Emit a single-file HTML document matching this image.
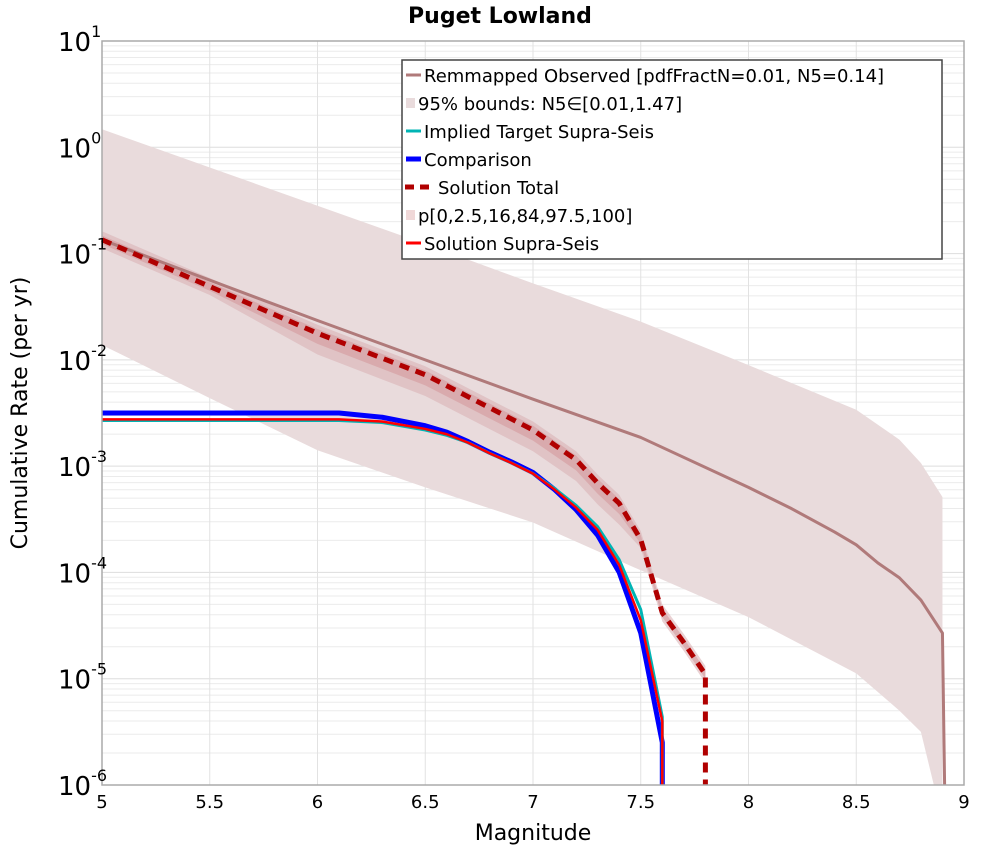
<!DOCTYPE html>
<html><head><meta charset="utf-8"><style>
body{margin:0;background:#fff;font-family:"DejaVu Sans","Liberation Sans",sans-serif}
svg text{font-family:"DejaVu Sans","Liberation Sans",sans-serif}
</style></head><body>
<svg id="chart" width="1000" height="850" viewBox="0 0 1000 850" xmlns="http://www.w3.org/2000/svg">
<text x="500" y="23" text-anchor="middle" font-size="22" font-weight="bold">Puget Lowland</text>
<g id="grid"></g>
<g id="marks"></g>
<rect x="102" y="41" width="862" height="744" fill="none" stroke="#aaa" stroke-width="1.5"/>
<g id="ticks"></g>
<text x="533" y="840" text-anchor="middle" font-size="22">Magnitude</text>
<text transform="translate(27,413) rotate(-90)" text-anchor="middle" font-size="22">Cumulative Rate (per yr)</text>
<g id="legend"></g>
</svg>
<script>
// Data (rates as log10 values)
const obsM = [5,5.5,6,6.5,7,7.5,8,8.2,8.4,8.5,8.6,8.7,8.8,8.9,8.91];
const obsLog = [-0.87,-1.25,-1.63,-2.0,-2.37,-2.73,-3.2,-3.4,-3.62,-3.74,-3.91,-4.05,-4.26,-4.57,-6];
const bandM = [5,5.5,6,6.5,7,7.5,8,8.5,8.7,8.8,8.9];
const bandUpper = [0.17,-0.19,-0.55,-0.91,-1.28,-1.64,-2.05,-2.47,-2.75,-2.97,-3.29];
const lowM = [5,5.5,6,6.5,7,7.5,8,8.5,8.7,8.8,8.86];
const bandLower = [-1.86,-2.36,-2.85,-3.2,-3.53,-3.98,-4.42,-4.95,-5.3,-5.5,-6];
const totM = [5,5.5,6,6.5,7,7.1,7.2,7.3,7.4,7.5,7.6,7.7,7.8,7.8];
const totLog = [-0.87,-1.31,-1.75,-2.14,-2.66,-2.8,-2.94,-3.16,-3.35,-3.69,-4.38,-4.66,-4.96,-6];
const supM = [5,5.5,6,6.1,6.3,6.5,6.6,6.7,6.8,6.9,7,7.1,7.2,7.3,7.4,7.5,7.6,7.6];
const compLog = [-2.5,-2.5,-2.5,-2.5,-2.54,-2.62,-2.68,-2.77,-2.87,-2.96,-3.06,-3.22,-3.41,-3.65,-4.0,-4.57,-5.6,-6];
const solSupLog = [-2.56,-2.56,-2.56,-2.56,-2.58,-2.65,-2.7,-2.78,-2.88,-2.97,-3.07,-3.22,-3.39,-3.6,-3.93,-4.45,-5.4,-6];
const targLog = [-2.57,-2.57,-2.57,-2.57,-2.59,-2.66,-2.71,-2.78,-2.88,-2.97,-3.07,-3.21,-3.37,-3.57,-3.88,-4.35,-5.36,-6];
const xTicks = [5,5.5,6,6.5,7,7.5,8,8.5,9];
const xTickLabels = ["5","5.5","6","6.5","7","7.5","8","8.5","9"];
const yTicks = [1,0,-1,-2,-3,-4,-5,-6];

const NS="http://www.w3.org/2000/svg";
const X0=102,X1=964,Y0=41,Y1=785,LMAX=1,LMIN=-6;
const xs=m=>X0+(m-5)/4*(X1-X0);
const ys=l=>Y0+(LMAX-Math.max(l,LMIN))/(LMAX-LMIN)*(Y1-Y0);
function mk(tag,attrs,parent){const e=document.createElementNS(NS,tag);for(const k in attrs)e.setAttribute(k,attrs[k]);parent.appendChild(e);return e;}
const grid=document.getElementById('grid'),marks=document.getElementById('marks'),ticks=document.getElementById('ticks'),legend=document.getElementById('legend');
for(let d=LMIN;d<LMAX;d++){for(let k=1;k<10;k++){const y=ys(d+Math.log10(k));
 const g=mk('line',{x1:X0,x2:X1,y1:y,y2:y,stroke:k==1?'#ddd':'#ebebeb','stroke-width':1},grid);
 }}
xTicks.forEach(t=>{const g=mk('line',{x1:xs(t),x2:xs(t),y1:Y0,y2:Y1,stroke:'#e2e2e2','stroke-width':1},grid);
 });
function pts(M,L){return M.map((m,i)=>xs(m)+','+ys(L[i])).join(' ');}
function area(Mu,U,Ml,L){return Mu.map((m,i)=>xs(m)+','+ys(U[i])).concat(Ml.slice().reverse().map((m,i)=>xs(m)+','+ys(L[Ml.length-1-i]))).join(' ');}
let b=mk('polygon',{points:area(bandM.concat([8.9]),bandUpper.concat([-6]),lowM,bandLower),fill:'#e9dbdc'},marks);

const tm=totM.slice(0,13),tl=totLog.slice(0,13);
const outU=tl.map(v=>v+0.08),outL=tl.map((v,i)=>v-(tm[i]>=5.8&&tm[i]<=7.4?0.2:0.08));
const inU=tl.map(v=>v+0.04),inL=tl.map((v,i)=>v-(tm[i]>=5.8&&tm[i]<=7.4?0.1:0.04));
b=mk('polygon',{points:area(tm,outU,tm,outL),fill:'#dbb3b5','fill-opacity':0.6},marks);

b=mk('polygon',{points:area(tm,inU,tm,inL),fill:'#d49a9d','fill-opacity':0.6},marks);

function line(M,L,color,w,name,dash){const p=mk('polyline',{points:pts(M,L),fill:'none',stroke:color,'stroke-width':w,'stroke-linejoin':'round'},marks);
 if(dash)p.setAttribute('stroke-dasharray',dash);
 }
line(obsM,obsLog,'#b07a7a',3,'remapped-observed-line');
line(supM,compLog,'#0000ff',5,'comparison-line');
line(supM,targLog,'#00b4b4',3,'implied-target-line');
line(supM,solSupLog,'#ff0000',2.5,'solution-supra-seis-line');
line(totM,totLog,'#b00000',5,'solution-total-line','10,7');
xTicks.forEach((t,i)=>{const e=mk('text',{x:xs(t),y:808,'text-anchor':'middle','font-size':18},ticks);e.textContent=xTickLabels[i];
 });
yTicks.forEach(t=>{const e=mk('text',{x:58,y:ys(t)+10,'font-size':26},ticks);e.textContent='10';
 
 const s=mk('tspan',{dy:-14,'font-size':16},e);s.textContent=String(t);});
const lg=mk('rect',{x:402,y:60,width:540,height:199,fill:'#fff',stroke:'#444','stroke-width':1.5},legend);

const items=[["Remmapped Observed [pdfFractN=0.01, N5=0.14]","line","#b07a7a",3],
["95% bounds: N5\u2208[0.01,1.47]","patch","#e9dbdc",0],
["Implied Target Supra-Seis","line","#00b4b4",3],
["Comparison","line","#0000ff",5],
["Solution Total","dash","#b00000",5],
["p[0,2.5,16,84,97.5,100]","patch","#f0d8d8",0],
["Solution Supra-Seis","line","#ff0000",3]];
items.forEach((it,i)=>{const y=75+i*28;const g=mk('g',{},legend);
 
 if(it[1]=='patch')mk('rect',{x:406,y:y-5,width:9,height:10,fill:it[2]},g);
 else{const l=mk('line',{x1:406,x2:421,y1:y,y2:y,stroke:it[2],'stroke-width':it[3]},g);if(it[1]=='dash'){l.setAttribute('x1',405);l.setAttribute('x2',435);l.setAttribute('stroke-dasharray','9,6');}}
 const t=mk('text',{x:it[1]=='dash'?438:(it[1]=='patch'?418:424),y:y+7,'font-size':18},g);t.textContent=it[0];});
</script>
</body></html>
